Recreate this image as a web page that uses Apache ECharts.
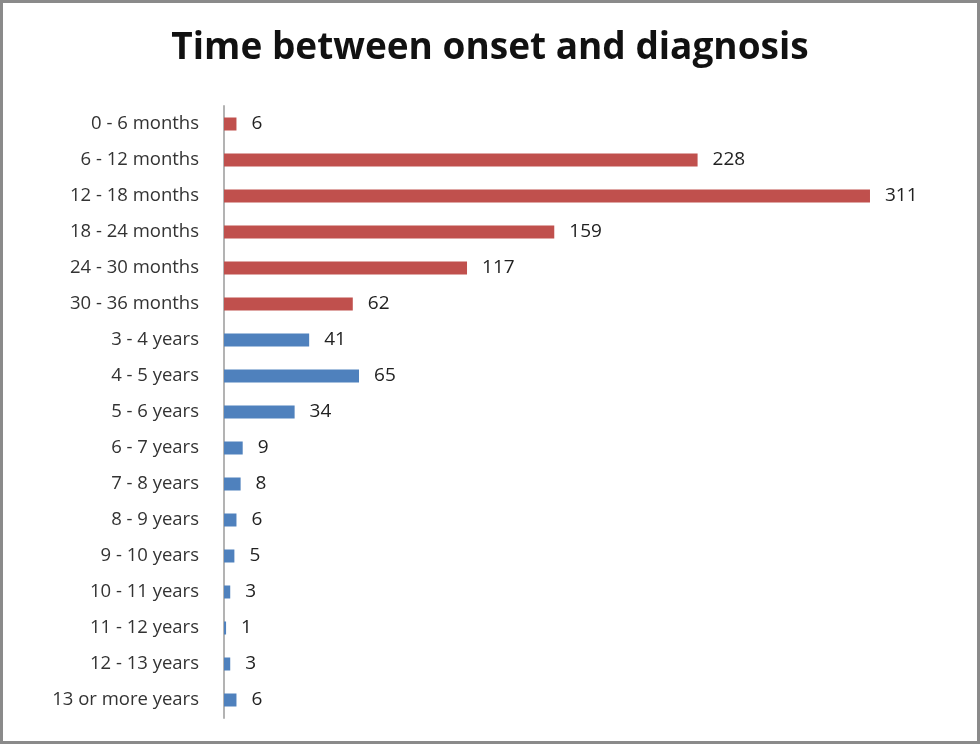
<!DOCTYPE html>
<html>
<head>
<meta charset="utf-8">
<script src="https://cdn.jsdelivr.net/npm/echarts@6/dist/echarts.min.js"></script>
<style>
html,body{margin:0;padding:0;background:#fff;}
#frame{position:absolute;left:0;top:0;width:974px;height:738px;border:3px solid #8a8a8a;}
#chart{position:absolute;left:0;top:0;width:980px;height:744px;}
</style>
</head>
<body>
<div id="frame"></div>
<div id="chart"></div>
<script>
const categories = ['0 - 6 months','6 - 12 months','12 - 18 months','18 - 24 months','24 - 30 months','30 - 36 months','3 - 4 years','4 - 5 years','5 - 6 years','6 - 7 years','7 - 8 years','8 - 9 years','9 - 10 years','10 - 11 years','11 - 12 years','12 - 13 years','13 or more years'];
const counts = [6,228,311,159,117,62,41,65,34,9,8,6,5,3,1,3,6];
const monthGroupCount = 6;

const chart = echarts.init(document.getElementById('chart'));
chart.setOption({
  animation:false,
  title:{text:'Time between onset and diagnosis',left:'center',top:25,textStyle:{fontFamily:'Open Sans',fontSize:37,fontWeight:'bold',color:'#111'}},
  grid:{left:224,right:29,top:106,bottom:26,containLabel:false},
  xAxis:{type:'value',min:0,max:350,show:false,splitLine:{show:false}},
  yAxis:{type:'category',data:categories,inverse:true,
    axisLine:{lineStyle:{color:'#b3b3b3',width:2}},axisTick:{show:false},
    axisLabel:{fontFamily:'Open Sans',fontSize:18.5,color:'#333',margin:25}},
  series:[{type:'bar',data:counts,barWidth:13,
    itemStyle:{color:p=>p.dataIndex<monthGroupCount?'#c0504d':'#4f81bd'},
    label:{show:true,position:'right',distance:15,fontFamily:'Open Sans',fontSize:19,color:'#222'}}]
});
</script>
</body>
</html>
